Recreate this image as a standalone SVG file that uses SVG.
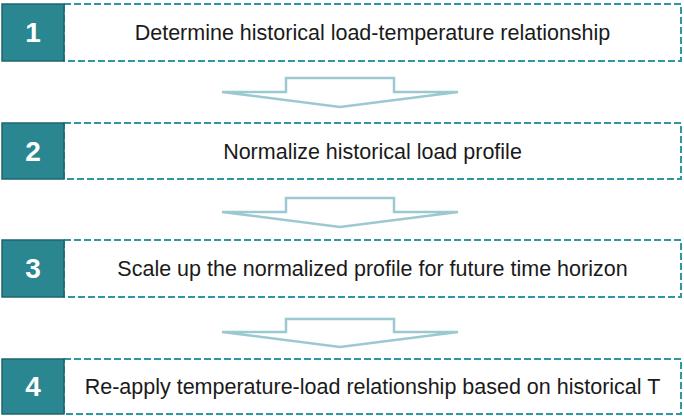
<svg xmlns="http://www.w3.org/2000/svg" width="684" height="416" viewBox="0 0 684 416">
  <style>
    .frame { fill: #ffffff; stroke: #2f97a1; stroke-width: 2; stroke-dasharray: 7 3; }
    .badge { fill: #2a8791; stroke: #1e666d; stroke-width: 1.5; }
    .num { font-family: "Liberation Sans", Arial, sans-serif; font-size: 28px; font-weight: bold; fill: #ffffff; text-anchor: middle; }
    .label { font-family: "Liberation Sans", Arial, sans-serif; font-size: 21.5px; fill: #1a1a1a; text-anchor: middle; }
    .flow { fill: #ffffff; stroke: #9cc9d1; stroke-width: 2.5; stroke-linejoin: miter; }
  </style>
  <rect width="684" height="416" fill="#ffffff"/>

  <g id="connectors">
    <path class="flow" d="M222,92 L286,92 L286,78 L394,78 L394,92 L458,92 L340,107 Z"/>
    <path class="flow" d="M222,212 L286,212 L286,198 L394,198 L394,212 L458,212 L340,227 Z"/>
    <path class="flow" d="M222,332 L286,332 L286,319 L394,319 L394,332 L458,332 L340,347 Z"/>
  </g>

  <g id="step1">
    <rect class="frame" x="64" y="4" width="617" height="57"/>
    <rect class="badge" x="2" y="4" width="62" height="57"/>
    <text class="num" x="33" y="42">1</text>
    <text class="label" x="372.5" y="40">Determine historical load-temperature relationship</text>
  </g>

  <g id="step2">
    <rect class="frame" x="64" y="123" width="617" height="56"/>
    <rect class="badge" x="2" y="123" width="62" height="56"/>
    <text class="num" x="33" y="161">2</text>
    <text class="label" x="372.5" y="159">Normalize historical load profile</text>
  </g>

  <g id="step3">
    <rect class="frame" x="64" y="240" width="617" height="57"/>
    <rect class="badge" x="2" y="240" width="62" height="57"/>
    <text class="num" x="33" y="278">3</text>
    <text class="label" x="372.5" y="276">Scale up the normalized profile for future time horizon</text>
  </g>

  <g id="step4">
    <rect class="frame" x="64" y="359" width="617" height="55"/>
    <rect class="badge" x="2" y="359" width="62" height="55"/>
    <text class="num" x="33" y="396">4</text>
    <text class="label" x="372.5" y="394">Re-apply temperature-load relationship based on historical T</text>
  </g>
</svg>
